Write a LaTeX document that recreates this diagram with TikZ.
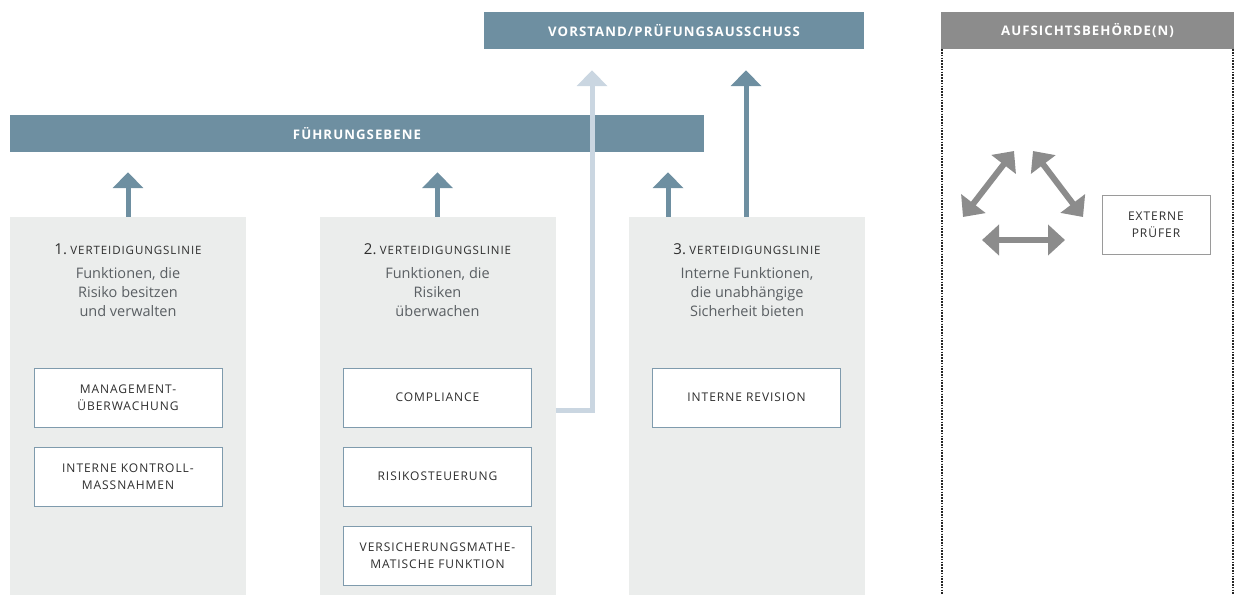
\documentclass[tikz,border=0pt]{standalone}
\usepackage{fontspec}
\setmainfont{Open Sans}
\newfontfamily\capsfont[LetterSpace=8]{Open Sans}
\usepackage{tikz}
\usetikzlibrary{arrows.meta, positioning}
\usepackage{xcolor}
\definecolor{stahlblau}{HTML}{6E8FA1}
\definecolor{hellblau}{HTML}{CAD6E1}
\definecolor{panelgrau}{HTML}{EBEDEC}
\definecolor{rahmenblau}{HTML}{7F9BAD}
\definecolor{aufsichtgrau}{HTML}{8C8C8C}
\definecolor{rahmengrau}{HTML}{9A9A9A}
\definecolor{textgrau}{HTML}{5A5F63}
\definecolor{schrift}{HTML}{2E2E2E}

\begin{document}
\begin{tikzpicture}[x=1pt,y=-1pt,node distance=19pt]
    \tikzstyle{balken}=[fill=stahlblau,text=white,inner sep=0pt,minimum height=37pt,
        font=\capsfont\bfseries\fontsize{13.2}{15}\selectfont]
    \tikzstyle{linie}=[fill=panelgrau,inner sep=0pt,minimum width=236pt,minimum height=378pt]
    \tikzstyle{titel}=[text=schrift,inner sep=0pt]
    \tikzstyle{beschr}=[text=textgrau,align=center,inner sep=0pt,font=\fontsize{14.5}{19}\selectfont]
    \tikzstyle{fkt}=[draw=rahmenblau,fill=white,line width=1pt,inner sep=0pt,align=center,
        minimum width=188pt,minimum height=59pt,text=schrift,
        font=\capsfont\fontsize{12}{17}\selectfont]
    \tikzstyle{pfeil}=[line width=5pt,color=stahlblau,-{Triangle[width=30pt,length=16pt]}]
    \tikzstyle{dpfeil}=[line width=6pt,color=aufsichtgrau,
        {Triangle[width=30pt,length=17pt]}-{Triangle[width=30pt,length=17pt]}]
    \tikzstyle{punkte}=[line width=1.6pt,dash pattern=on 1.6pt off 1.2pt,color=black!85]

    \useasboundingbox (0,0) rectangle (1234,595);

    % Balken oben
    \node[balken,minimum width=380pt] (vorstand) at (674,30.5) {VORSTAND/PRÜFUNGSAUSSCHUSS};
    \node[balken,fill=aufsichtgrau,minimum width=293pt] (aufsicht) at (1087.5,30.5) {AUFSICHTSBEHÖRDE(N)};
    \node[balken,minimum width=694pt] (fuehrung) at (357,133.5) {FÜHRUNGSEBENE};

    % Verteidigungslinien
    \node[linie] (lin1) at (128,406) {};
    \node[linie] (lin2) at (437.5,406) {};
    \node[linie] (lin3) at (747,406) {};

    \node[titel] (tit1) at (128,249) {{\fontsize{15}{17}\selectfont 1.} {\capsfont\fontsize{11.5}{13}\selectfont VERTEIDIGUNGSLINIE}};
    \node[titel] (tit2) at (437.5,249) {{\fontsize{15}{17}\selectfont 2.} {\capsfont\fontsize{11.5}{13}\selectfont VERTEIDIGUNGSLINIE}};
    \node[titel] (tit3) at (747,249) {{\fontsize{15}{17}\selectfont 3.} {\capsfont\fontsize{11.5}{13}\selectfont VERTEIDIGUNGSLINIE}};

    \node[beschr] (bes1) at (128,292) {Funktionen, die\\Risiko besitzen\\und verwalten};
    \node[beschr] (bes2) at (437.5,292) {Funktionen, die\\Risiken\\überwachen};
    \node[beschr] (bes3) at (747,292) {Interne Funktionen,\\die unabhängige\\Sicherheit bieten};

    \node[fkt] (mgmt) at (128,397.5) {MANAGEMENT-\\ÜBERWACHUNG};
    \node[fkt,below=of mgmt] (ikm) {INTERNE KONTROLL-\\MASSNAHMEN};
    \node[fkt] (komp) at (437.5,397.5) {COMPLIANCE};
    \node[fkt,below=of komp] (risk) {RISIKOSTEUERUNG};
    \node[fkt,below=of risk] (vmf) {VERSICHERUNGSMATHE-\\MATISCHE FUNKTION};
    \node[fkt] (rev) at (746.5,397.5) {INTERNE REVISION};

    % Aufsicht
    \node[fkt,draw=rahmengrau,minimum width=108pt] (extern) at (1156,224.5) {EXTERNE\\PRÜFER};
    \coordinate (unten) at (0,595);
    \coordinate (knick) at (592,410);
    \coordinate (d1) at (963,217);
    \coordinate (d2) at (1014,151);
    \coordinate (d3) at (1033,151);
    \coordinate (d4) at (1083,217);
    \coordinate (d5) at (982,240);
    \coordinate (d6) at (1065,240);

    \draw[punkte] ([xshift=1pt]aufsicht.south west) -- ([xshift=1pt]aufsicht.south west |- unten);
    \draw[punkte] ([xshift=-1.5pt]aufsicht.south east) -- ([xshift=-1.5pt]aufsicht.south east |- unten);

    \path[dpfeil]
    (d1) edge (d2)
    (d3) edge (d4)
    (d5) edge (d6)
    ;

    % Berichtslinien
    \draw[pfeil,color=hellblau,shorten >=21pt] (lin2.east |- knick) -- (knick) -- (knick |- vorstand.south);
    \draw[pfeil,shorten >=20pt] (lin1.north) -- (lin1.north |- fuehrung.south);
    \draw[pfeil,shorten >=20pt] (lin2.north) -- (lin2.north |- fuehrung.south);
    \draw[pfeil,shorten >=20pt] ([xshift=-79pt]lin3.north) -- ([xshift=-79pt]lin3.north |- fuehrung.south);
    \draw[pfeil,shorten >=21pt] ([xshift=-1pt]lin3.north) -- ([xshift=-1pt]lin3.north |- vorstand.south);
\end{tikzpicture}
\end{document}
